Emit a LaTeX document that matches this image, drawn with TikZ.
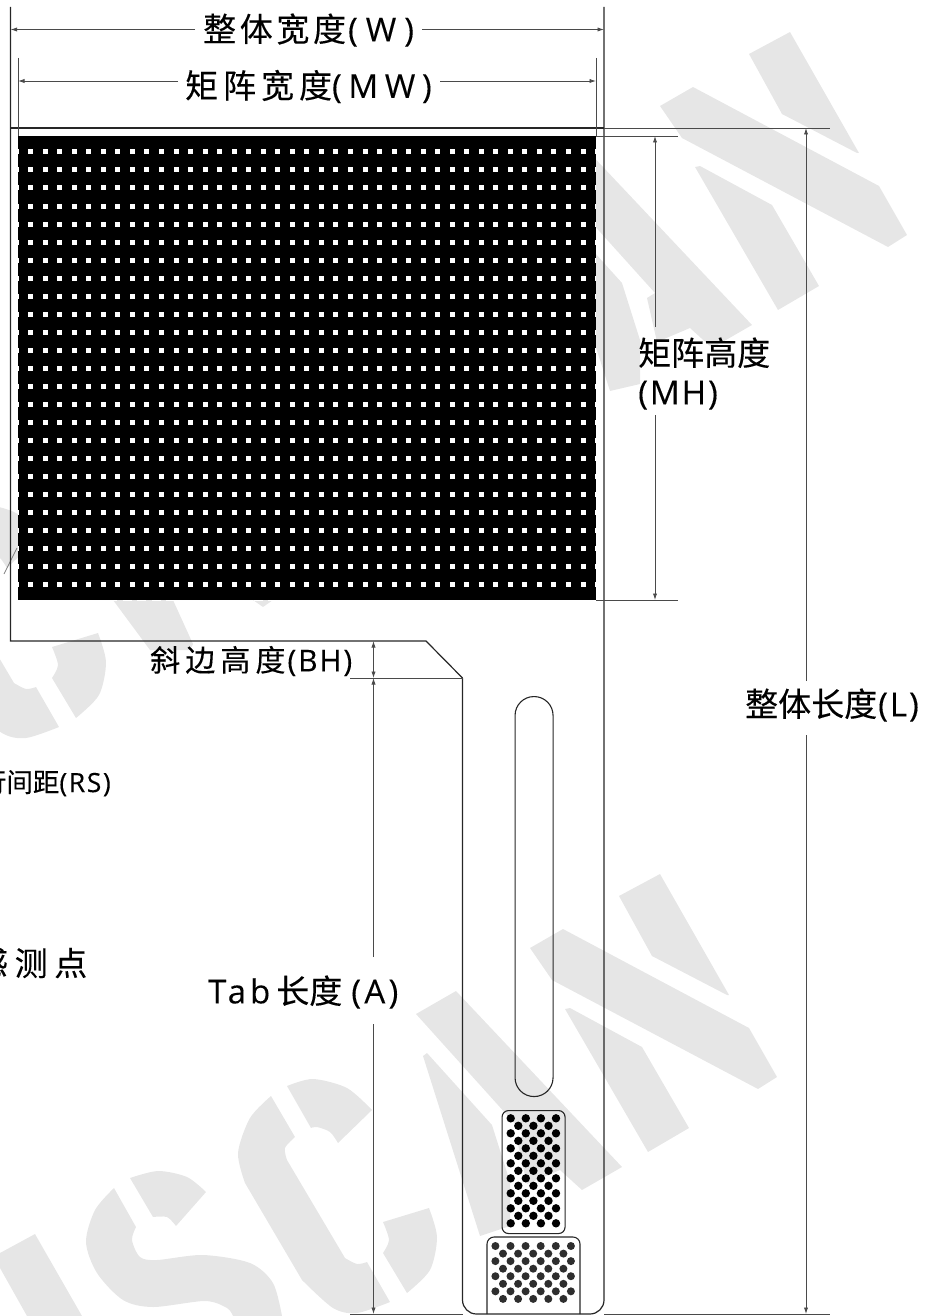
\documentclass[tikz,border=0pt]{standalone}
\usepackage{fontspec}
\newfontfamily\cjk[FakeBold=0.2]{Noto Sans CJK SC}
\newfontfamily\cjks[LetterSpace=11,FakeBold=0.2]{Noto Sans CJK SC}
\newfontfamily\cjkm[LetterSpace=15,FakeBold=0.2]{Noto Sans CJK SC}
\newfontfamily\cjkt[LetterSpace=17,FakeBold=0.2]{Noto Sans CJK SC}
\newfontfamily\cjku[LetterSpace=20,FakeBold=0.2]{Noto Sans CJK SC}
\newfontfamily\la[LetterSpace=6,FakeBold=0.2]{Open Sans}
\newfontfamily\laS[LetterSpace=24,FakeBold=0.2]{Open Sans}
\newfontfamily\laM[LetterSpace=20,FakeBold=0.2]{Open Sans}
\newfontfamily\laA[LetterSpace=10,FakeBold=0.2]{Open Sans}
\newfontfamily\laT[LetterSpace=12,FakeBold=0.2]{Open Sans}
\usetikzlibrary{arrows.meta}
\definecolor{wm}{HTML}{E6E6E6}
\definecolor{dimc}{HTML}{4A4A4A}
\definecolor{linec}{HTML}{262626}
\definecolor{padhole}{HTML}{2E2E2E}
\newcommand{\glyphN}{%
  \fill[wm] (790,32) -- (859,153) -- (857,153) -- (782,114) -- (749,54) -- cycle;
  \fill[wm] (693,87) -- (879,186) -- (907,235) -- (888,247) -- (682,138) -- (660,106) -- cycle;
  \fill[wm] (695,167) -- (700,166) -- (772,205) -- (819,286) -- (778,310) -- cycle;}
\newcommand{\glyphA}{%
  \fill[wm] (586,149) -- (752,325) -- (712,348) -- (690,328) -- (657,342) -- (647,298) -- (655,293) -- (546,172) -- cycle;
  \fill[wm] (553,214) -- (557,211) -- (622,283) -- (640,340) -- (640,384) -- (610,391) -- cycle;}
\newcommand{\glyphC}{%
  \fill[wm] plot[smooth] coordinates {(271,1096) (250,1118) (238,1153) (245,1183)} -- plot[smooth] coordinates {(302,1280) (333,1308) (357,1313) (390,1302)} -- plot[smooth] coordinates {(367,1262) (357,1264) (345,1258)} -- plot[smooth] coordinates {(287,1160) (285,1148) (295,1137)} -- cycle;
  \fill[wm] plot[smooth] coordinates {(287,1086) (313,1079) (347,1088) (372,1110)} -- plot[smooth] coordinates {(338,1143) (330,1132) (317,1127) (311,1128)} -- cycle;
  \fill[wm] (383,1222) -- (429,1208) -- plot[smooth] coordinates {(429,1208) (437,1237) (430,1270) (407,1293)} -- (383,1253) -- plot[smooth] coordinates {(383,1253) (389,1240) (383,1222)} -- cycle;}
\tikzset{
  x=1pt,y=-1pt,
  outline/.style={draw=linec,line width=1.2pt},
  thin outline/.style={draw=linec,line width=1.1pt},
  extline/.style={draw=dimc,line width=0.9pt},
  dimline/.style={draw=dimc,line width=0.8pt},
  endtip/.style={-{Latex[length=6.5pt,width=4.2pt]}},
  bothtip/.style={{Latex[length=6.5pt,width=4.2pt]}-{Latex[length=6.5pt,width=4.2pt]}},
  lab/.style={inner sep=0pt,anchor=west,text=black,font=\fontsize{33}{39}\selectfont\cjk},
  labs/.style={inner sep=0pt,anchor=west,text=black,font=\fontsize{33}{39}\selectfont\cjks},
  labm/.style={inner sep=0pt,anchor=west,text=black,font=\fontsize{33}{39}\selectfont\cjkm},
  labt/.style={inner sep=0pt,anchor=west,text=black,font=\fontsize{30}{36}\selectfont\cjkt},
  sq/.style={fill=white,draw=none},
  hole/.style={fill=black,draw=none},
}
\begin{document}
\begin{tikzpicture}
\useasboundingbox (0,0) rectangle (930,1316);
\clip (0,0) rectangle (930,1316);
% watermark
\glyphN
\glyphA
\begin{scope}[shift={(-130,842)}]
  \glyphN
\end{scope}
\fill[wm] (456,991) -- (622,1167) -- (582,1190) -- (560,1170) -- (527,1184) -- (517,1140) -- (525,1135) -- (416,1014) -- cycle;
\fill[wm] (423,1056) -- (427,1053) -- (492,1125) -- (510,1182) -- (510,1226) -- (480,1236) -- cycle;
\glyphC
\begin{scope}[shift={(-331,-575)}]
  \glyphC
\end{scope}
\fill[wm] (113,600) -- (173,600) -- (193,644) -- (190,650) -- (150,650) -- cycle;
\fill[wm] (253,600) -- (273,600) -- (263,607) -- cycle;
% S
\fill[wm] plot[smooth] coordinates {(130,1178) (158,1171) (187,1177) (206,1192)} -- plot[smooth] coordinates {(176,1226) (167,1217) (153,1217)} -- cycle;
\fill[wm] plot[smooth] coordinates {(114,1188) (95,1210) (86,1242) (97,1273) (123,1300) (153,1307) (205,1301) (227,1308) (233,1316)} -- (282,1316) -- plot[smooth] coordinates {(282,1316) (273,1283) (250,1263) (203,1255) (157,1260) (140,1257) (132,1240) (136,1227)} -- cycle;
% I
\fill[wm] (35,1234) -- (82,1316) -- (27,1316) -- (0,1268) -- (0,1253) -- cycle;
\draw[draw=gray,line width=0.7pt] (17,548) -- (4,574);

% matrix
\node[fill=black,draw=none,minimum width=578pt,minimum height=464pt,inner sep=0pt,anchor=north west] (matrix) at (18,136) {};
\foreach \r in {0,...,24}{
  \foreach \c in {0,...,38}{
    \fill[sq] ({30.7+\c*14.535-2.5},{152+\r*18-2.5}) rectangle +(5,5);
  }
  \fill[sq] (18,{152+\r*18-2.5}) rectangle +(1,5);
  \fill[sq] (595,{152+\r*18-2.5}) rectangle +(1,5);
}
\draw[white,line width=1pt,dash pattern=on 9pt off 5.535pt,dash phase=-3pt] (18,136) -- (596,136);
\draw[white,line width=1pt,dash pattern=on 9pt off 5.535pt,dash phase=-3pt] (18,600) -- (596,600);

% outline
\coordinate (topL) at (10.5,7);
\coordinate (topR) at (604,7);
\coordinate (frameTL) at (10.5,128);
\coordinate (frameBL) at (10.5,641);
\coordinate (cham1) at (426,641);
\coordinate (cham2) at (462.5,678);
\coordinate (tabBL) at (462.5,1314);
\coordinate (tabBR) at (604,1314);
\draw[outline,rounded corners=14pt] (cham2) -- (tabBL) -- (tabBR) -- (topR);
\draw[outline] (topL) -- (frameBL) -- (cham1) -- (cham2);
\draw[outline] (frameTL) -- (604,128);

% slot and pads
\node[draw=linec,line width=1.1pt,minimum width=38pt,minimum height=400pt,inner sep=0pt,rounded corners=18.9pt,anchor=north west] (slot) at (514.5,696) {};
\node[draw=linec,line width=1.1pt,minimum width=63pt,minimum height=123pt,inner sep=0pt,rounded corners=6.5pt,anchor=north west] (padA) at (501.5,1110) {};
\draw[thin outline,rounded corners=7pt] (487,1314) -- (487,1237) -- (580,1237) -- (580,1314);
\foreach \r in {0,...,7}{
  \foreach \c in {0,...,3}{\fill[hole] ({510.7+\c*15.1},{1118.3+\r*15}) circle (4.2);}
}
\foreach \r in {0,...,6}{
  \foreach \c in {0,...,2}{\fill[hole] ({518.3+\c*15.1},{1125.8+\r*15}) circle (4.2);}
}
\foreach \r in {0,...,3}{
  \foreach \c in {0,...,5}{\fill[padhole] ({495.4+\c*15.1},{1246+\r*15.1}) circle (4);}
  \foreach \c in {0,...,4}{\fill[padhole] ({503+\c*15.1},{1253.6+\r*15.1}) circle (4);}
}

% labels
\node[labs] (wlab) at (203,30) {整体宽度\hspace{2pt}{\laS (W)}};
\node[labm] (mwlab) at (185,86.5) {矩阵宽度{\laM (MW)}};
\node[lab,align=left] (mhlab) at (638,373.5) {矩阵高度\\{\la (MH)}};
\node[lab] (llab) at (745,705) {整体长度\hspace{1pt}{\la (L)}};
\node[labt] (bhlab) at (150,661) {斜边高度\hspace{2pt}{\la (BH)}};
\node[lab] (alab) at (208,992) {{\laT Tab}\hspace{6pt}长度\hspace{9pt}{\laA (A)}};
\node[inner sep=0pt,anchor=east,font=\fontsize{26.5}{30}\selectfont\cjk] (rslab) at (111,783) {行间距{\la (RS)}};
\node[inner sep=0pt,anchor=east,font=\fontsize{33}{39}\selectfont\cjku] (senslab) at (87.5,963) {感测点};

% dimension lines
\coordinate (wL) at (10.5,29.5);  \coordinate (wLe) at (195,29.5);
\coordinate (wRe) at (422,29.5);  \coordinate (wR) at (604,29.5);
\coordinate (mwL) at (18,81);     \coordinate (mwLe) at (178,81);
\coordinate (mwRe) at (440,81);   \coordinate (mwR) at (596,81);
\coordinate (extMLt) at (18,58);  \coordinate (extMRt) at (596,58);
\draw[dimline,endtip] (wLe) -- (wL);
\draw[dimline,endtip] (wRe) -- (wR);
\draw[dimline,endtip] (mwLe) -- (mwL);
\draw[dimline,endtip] (mwRe) -- (mwR);
\draw[extline] (extMLt) -- (18,136);
\draw[extline] (extMRt) -- (596,136);

\coordinate (totalR) at (830,128);
\coordinate (mhT) at (655,136);  \coordinate (mhTe) at (655,327);
\coordinate (mhBe) at (655,415); \coordinate (mhB) at (655,600);
\draw[extline] (596,136) -- (678,136);
\draw[extline] (596,600) -- (678,600);
\draw[extline] (604,128) -- (totalR);
\draw[dimline,endtip] (mhTe) -- (mhT);
\draw[dimline,endtip] (mhBe) -- (mhB);

\coordinate (lT) at (806,128);  \coordinate (lTe) at (806,681);
\coordinate (lBe) at (806,735); \coordinate (lB) at (806,1314);
\draw[dimline,endtip] (lTe) -- (lT);
\draw[dimline,endtip] (lBe) -- (lB);
\draw[extline] (tabBR) -- (830,1314);
\draw[extline] (350,1314) -- (tabBL);

\coordinate (bhT) at (373.5,641); \coordinate (bhB) at (373.5,678);
\coordinate (aTe) at (373.5,957); \coordinate (aBe) at (373.5,1024); \coordinate (aB) at (373.5,1314);
\draw[dimline,bothtip] (bhT) -- (bhB);
\draw[extline] (350,678) -- (cham2);
\draw[dimline,endtip] (aTe) -- (bhB);
\draw[dimline,endtip] (aBe) -- (aB);
\end{tikzpicture}
\end{document}
